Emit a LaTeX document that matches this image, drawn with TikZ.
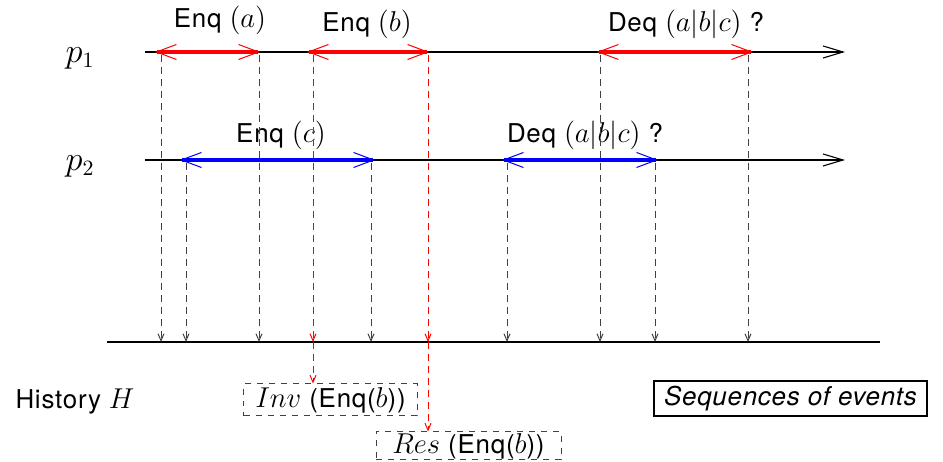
\documentclass[tikz,border=0pt]{standalone}
\usepackage{fontspec}
\setmainfont[LetterSpace=3]{TeX Gyre Heros}
\DeclareMathSizes{13}{15}{10}{8}
\usetikzlibrary{arrows.meta}
\begin{document}
\begin{tikzpicture}[x=0.5bp,y=-0.5bp,
  every node/.style={font=\fontsize{13}{15}\selectfont, inner sep=0pt},
  plabel/.style={font=\fontsize{16}{18}\selectfont},
  tline/.style={draw=black, line width=0.55bp, -{Straight Barb[length=10bp,width=6bp,line width=0.55bp]}},
  hline/.style={draw=black, line width=0.7bp},
  opint/.style={line width=1.6bp, {Straight Barb[length=10bp,width=7.5bp,line width=0.5bp]}-{Straight Barb[length=10bp,width=7.5bp,line width=0.5bp]}},
  redint/.style={opint, draw=red},
  blueint/.style={opint, draw=blue},
  evline/.style={draw=black!75, line width=0.5bp, dash pattern=on 3.5bp off 2.5bp, -{Straight Barb[length=3.5bp,width=3bp,line width=0.5bp]}},
  redline/.style={evline, draw=red},
  evbox/.style={draw=black!75, dashed, line width=0.5bp},
  seqbox/.style={draw=black, line width=0.6bp}
]
\useasboundingbox (0,0) rectangle (943,462);
% process labels
\node[plabel] (lp1) at (80,58) {$p_1$};
\node[plabel] (lp2) at (80,166) {$p_2$};
% time lines
\coordinate (p1s) at (145,52); \coordinate (p1e) at (845,52);
\coordinate (p2s) at (145,160); \coordinate (p2e) at (845,160);
\draw[tline] (p1s) -- (p1e);
\draw[tline] (p2s) -- (p2e);
% history line
\coordinate (hs) at (107,342); \coordinate (he) at (880,342);
\draw[hline] (hs) -- (he);
% operations
\coordinate (a1) at (155,52); \coordinate (a2) at (260,52);
\coordinate (b1) at (307,52); \coordinate (b2) at (429,52);
\coordinate (d1) at (597,52); \coordinate (d2) at (753,52);
\coordinate (c1) at (180,160); \coordinate (c2) at (375,160);
\coordinate (e1) at (502,160); \coordinate (e2) at (658,160);
\draw[redint] (a1) -- (a2);
\draw[redint] (b1) -- (b2);
\draw[redint] (d1) -- (d2);
\draw[blueint] (c1) -- (c2);
\draw[blueint] (e1) -- (e2);
% operation labels
\node[anchor=base] (la) at (220,28) {Enq $(a)$};
\node[anchor=base] (lb) at (367,32) {Enq $(b)$};
\node[anchor=base] (ld) at (686,32) {Deq $(a|b|c)$ ?};
\node[anchor=base] (lc) at (281,143) {Enq $(c)$};
\node[anchor=base] (le) at (585,143) {Deq $(a|b|c)$ ?};
% event projections
\coordinate (t1) at (161,55);  \coordinate (h1) at (161,342);
\coordinate (t2) at (186,163); \coordinate (h2) at (186,342);
\coordinate (t3) at (259,55);  \coordinate (h3) at (259,342);
\coordinate (t4) at (313,55);  \coordinate (h4) at (313,342);
\coordinate (t5) at (371,163); \coordinate (h5) at (371,342);
\coordinate (t6) at (428,55);  \coordinate (h6) at (428,342);
\coordinate (t7) at (507,163); \coordinate (h7) at (507,342);
\coordinate (t8) at (600,55);  \coordinate (h8) at (600,342);
\coordinate (t9) at (655,163); \coordinate (h9) at (655,342);
\coordinate (t10) at (748,55); \coordinate (h10) at (748,342);
\foreach \i in {1,2,3,5,7,8,9,10} \draw[evline] (t\i) -- (h\i);
\draw[redline] (t4) -- (h4);
\draw[redline] (t6) -- (h6);
% history
\node[anchor=base] (hist) at (75,409) {History $H$};
\node[evbox, minimum width=86.5bp, minimum height=16bp] (inv) at (330.5,400) {$Inv$ (Enq($b$))};
\node[evbox, minimum width=92.5bp, minimum height=14bp] (res) at (468.5,446) {$Res$ (Enq($b$))};
\node[seqbox, minimum width=136.5bp, minimum height=17.5bp] (seq) at (790.5,398.5) {\itshape Sequences of events};
\draw[redline] (h4) -- (inv.north -| h4);
\draw[redline] (h6) -- (res.north -| h6);
\end{tikzpicture}
\end{document}
